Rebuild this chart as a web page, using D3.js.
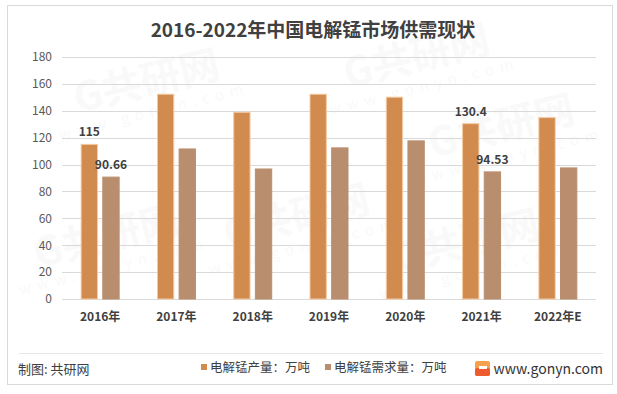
<!DOCTYPE html>
<html>
<head>
<meta charset="utf-8">
<script src="https://cdn.jsdelivr.net/npm/d3@7"></script>
<style>
  body { margin: 0; background: #fff; }
  svg text { font-family: "Noto Sans CJK SC", "Noto Sans", sans-serif; }
</style>
</head>
<body>
<div id="chart"></div>
<script>
'use strict';

var years = ['2016年', '2017年', '2018年', '2019年', '2020年', '2021年', '2022年E'];
var output = [115, 152.3, 138.9, 152.3, 150.1, 130.4, 134.9];
var demand = [90.66, 111.6, 96.7, 112.4, 117.6, 94.53, 97.5];
var seriesNames = ['电解锰产量：万吨', '电解锰需求量：万吨'];
var labelledYears = ['2016年', '2021年'];
var yTicks = [0, 20, 40, 60, 80, 100, 120, 140, 160, 180];

var W = 617, H = 394;
var margin = { top: 57, right: 21, bottom: 95, left: 62 };
var colors = ['#d28b4e', '#b98e6e'];
var strokes = ['#f3c9a2', '#b98e6e'];

var svg = d3.select('#chart').append('svg')
  .attr('width', W)
  .attr('height', H);

// frame
svg.append('rect')
  .attr('x', 7.5).attr('y', 5.5)
  .attr('width', 605).attr('height', 379)
  .attr('fill', '#fff')
  .attr('stroke', '#d9d9d9');

// faint watermarks
var marks = [[150, 95], [420, 70], [300, 230], [505, 140], [110, 250], [470, 255]];
marks.forEach(function (m) {
  var g = svg.append('g')
    .attr('transform', 'translate(' + m[0] + ',' + m[1] + ') rotate(-14)')
    .attr('opacity', 0.045);
  g.append('text').attr('text-anchor', 'middle')
    .attr('font-size', 40).attr('font-weight', 'bold').attr('fill', '#888')
    .text('G共研网');
  g.append('text').attr('text-anchor', 'middle').attr('y', 22)
    .attr('font-size', 15).attr('letter-spacing', 6).attr('fill', '#888')
    .text('www.gonyn.com');
});

svg.append('text')
  .attr('x', 313).attr('y', 37)
  .attr('text-anchor', 'middle')
  .attr('font-size', 19)
  .attr('font-weight', 'bold')
  .attr('fill', '#404040')
  .text('2016-2022年中国电解锰市场供需现状');

var x = d3.scaleBand()
  .domain(years)
  .range([margin.left, W - margin.right])
  .paddingInner(0.489)
  .paddingOuter(0.2445);

var xs = d3.scaleBand()
  .domain([0, 1])
  .range([0, x.bandwidth()])
  .paddingInner(0.2);

var y = d3.scaleLinear()
  .domain([0, 180])
  .range([H - margin.bottom, margin.top]);

// grid
svg.append('g')
  .selectAll('line')
  .data(yTicks)
  .enter().append('line')
  .attr('x1', margin.left).attr('x2', W - margin.right)
  .attr('y1', function (d) { return Math.round(y(d)) + 0.5; })
  .attr('y2', function (d) { return Math.round(y(d)) + 0.5; })
  .attr('stroke', '#d9d9d9');

var yAxis = d3.axisLeft(y).tickValues(yTicks).tickSize(0).tickPadding(10);
svg.append('g')
  .attr('transform', 'translate(' + margin.left + ',0)')
  .call(yAxis)
  .call(function (g) {
    g.select('.domain').remove();
    g.selectAll('text').attr('font-size', 12).attr('fill', '#595959')
      .attr('font-family', '"Noto Sans CJK SC", sans-serif');
  });

var xAxis = d3.axisBottom(x).tickSize(0).tickPadding(13);
svg.append('g')
  .attr('transform', 'translate(0,' + (H - margin.bottom) + ')')
  .call(xAxis)
  .call(function (g) {
    g.select('.domain').remove();
    g.selectAll('text').attr('font-size', 12).attr('fill', '#404040')
      .attr('font-weight', 'bold')
      .attr('font-family', '"Noto Sans CJK SC", sans-serif');
  });

var rows = years.map(function (yr, i) {
  return { year: yr, vals: [output[i], demand[i]] };
});

var groups = svg.append('g')
  .selectAll('g')
  .data(rows)
  .enter().append('g')
  .attr('transform', function (d) { return 'translate(' + x(d.year) + ',0)'; });

groups.selectAll('rect')
  .data(function (d) { return d.vals.map(function (v, k) { return { k: k, v: v, year: d.year }; }); })
  .enter().append('rect')
  .attr('x', function (d) { return xs(d.k) + 0.5; })
  .attr('y', function (d) { return y(d.v); })
  .attr('width', xs.bandwidth() - 1)
  .attr('height', function (d) { return y(0) - y(d.v); })
  .attr('fill', function (d) { return colors[d.k]; })
  .attr('stroke', function (d) { return strokes[d.k]; })
  .attr('stroke-width', 1);

groups.selectAll('text.val')
  .data(function (d) {
    if (labelledYears.indexOf(d.year) < 0) return [];
    return d.vals.map(function (v, k) { return { k: k, v: v }; });
  })
  .enter().append('text')
  .attr('class', 'val')
  .attr('x', function (d) { return xs(d.k) + xs.bandwidth() / 2; })
  .attr('y', function (d) { return y(d.v) - 8; })
  .attr('text-anchor', 'middle')
  .attr('font-size', 12)
  .attr('font-weight', 'bold')
  .attr('fill', '#404040')
  .text(function (d) { return d.v; });

// footer
svg.append('line')
  .attr('x1', 19).attr('x2', 603)
  .attr('y1', 353.5).attr('y2', 353.5)
  .attr('stroke', '#e6e6e6');

svg.append('text')
  .attr('x', 18).attr('y', 374)
  .attr('font-size', 13)
  .attr('fill', '#404040')
  .text('制图: 共研网');

var legendX = [201, 325];
var legend = svg.append('g')
  .selectAll('g')
  .data(seriesNames)
  .enter().append('g')
  .attr('transform', function (d, i) { return 'translate(' + legendX[i] + ',0)'; });
legend.append('rect')
  .attr('x', 0).attr('y', 364)
  .attr('width', 6).attr('height', 6)
  .attr('fill', function (d, i) { return colors[i]; });
legend.append('text')
  .attr('x', 9).attr('y', 372)
  .attr('font-size', 12.5)
  .attr('fill', '#404040')
  .text(function (d) { return d; });

// logo
var logo = svg.append('g').attr('transform', 'translate(475,361)');
logo.append('rect').attr('width', 15).attr('height', 15).attr('rx', 2).attr('fill', '#f6a04d');
logo.append('rect').attr('y', 7).attr('width', 15).attr('height', 8).attr('rx', 2).attr('fill', '#ee5b2f');
logo.append('rect').attr('x', 4).attr('y', 5).attr('width', 8).attr('height', 3).attr('fill', '#fff');

svg.append('text')
  .attr('x', 603).attr('y', 374)
  .attr('text-anchor', 'end')
  .attr('font-size', 14)
  .attr('font-family', '"Open Sans", sans-serif')
  .attr('fill', '#333')
  .text('www.gonyn.com');
</script>
</body>
</html>
